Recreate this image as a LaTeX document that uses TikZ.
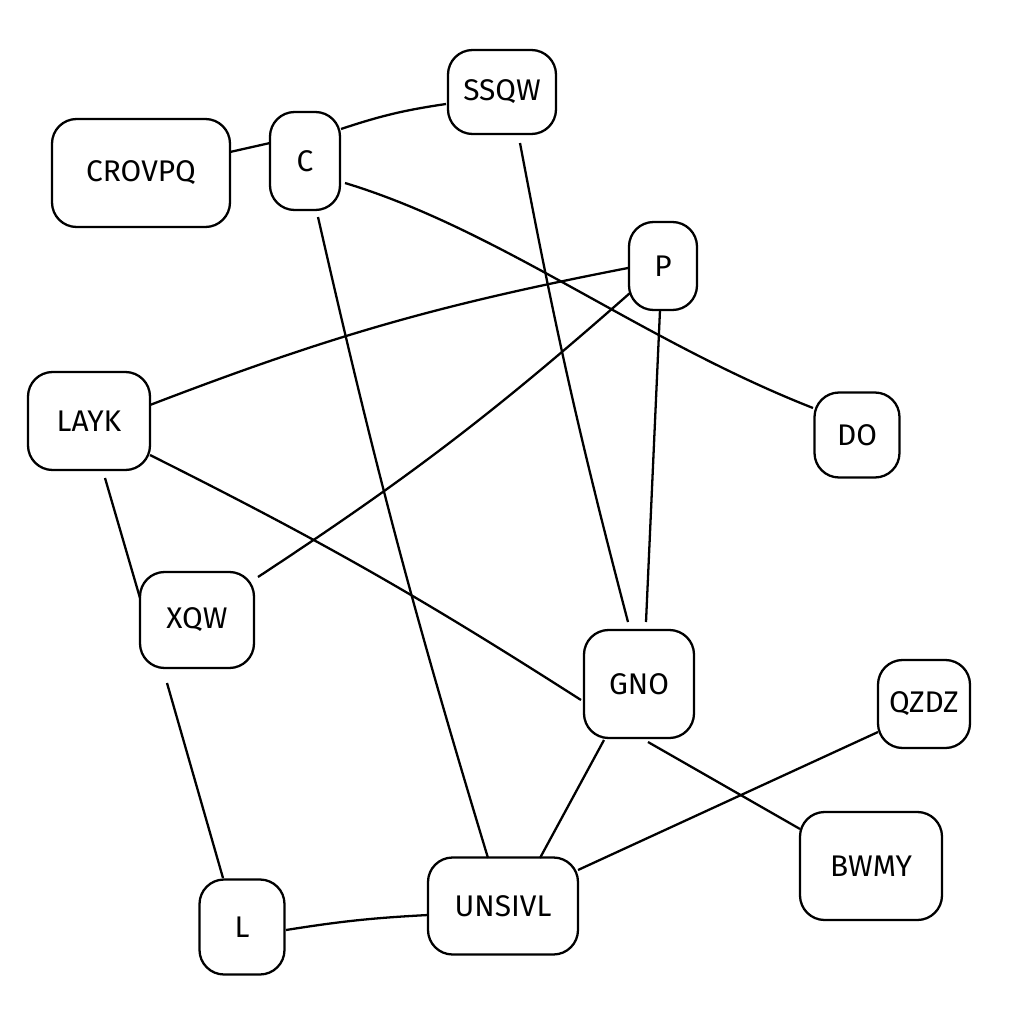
\documentclass[tikz,border=0pt]{standalone}
\usepackage{fontspec}
\setmainfont{Fira Sans}
\begin{document}
\begin{tikzpicture}[x=0.02cm,y=-0.02cm,
  box/.style={draw=black,line width=1.3pt,rounded corners=14pt,font=\fontsize{17}{20}\selectfont,inner sep=0pt},
  link/.style={draw=black,line width=1.3pt}]
\useasboundingbox (0,0) rectangle (1024,1024);
\node[box,minimum width=178*0.02cm,minimum height=108*0.02cm] (crovpq) at (141,173) {CROVPQ};
\node[box,minimum width=70*0.02cm,minimum height=98*0.02cm] (c) at (305,161) {C};
\node[box,minimum width=108*0.02cm,minimum height=84*0.02cm] (ssqw) at (502,92) {SSQW};
\node[box,minimum width=68*0.02cm,minimum height=88*0.02cm] (p) at (663,266) {P};
\node[box,minimum width=122*0.02cm,minimum height=98*0.02cm] (layk) at (89,421) {LAYK};
\node[box,minimum width=85*0.02cm,minimum height=85*0.02cm] (do) at (857,435) {DO};
\node[box,minimum width=114*0.02cm,minimum height=96*0.02cm] (xqw) at (197,620) {XQW};
\node[box,minimum width=110*0.02cm,minimum height=108*0.02cm] (gno) at (639,684) {GNO};
\node[box,minimum width=92*0.02cm,minimum height=88*0.02cm] (qzdz) at (924,704) {QZDZ};
\node[box,minimum width=142*0.02cm,minimum height=108*0.02cm] (bwmy) at (871,866) {BWMY};
\node[box,minimum width=85*0.02cm,minimum height=95*0.02cm] (l) at (242,927) {L};
\node[box,minimum width=150*0.02cm,minimum height=97*0.02cm] (unsivl) at (503,906) {UNSIVL};

\draw[link] ([shift={(89,-21)}]crovpq.center) -- ([shift={(-35,-18)}]c.center);
\draw[link] ([shift={(36,-32)}]c.center) to[bend left=5] ([shift={(-56,12)}]ssqw.center);
\draw[link] ([shift={(40,22)}]c.center) .. controls (500,230) and (640,340) .. ([shift={(-44,-27)}]do.center);
\draw[link] ([shift={(13,56)}]c.center) to[bend right=2] ([shift={(-15,-48)}]unsivl.center);
\draw[link] ([shift={(18,51)}]ssqw.center) to[bend right=2] ([shift={(-11,-62)}]gno.center);
\draw[link] ([shift={(-35,2)}]p.center) to[bend right=5] ([shift={(61,-16)}]layk.center);
\draw[link] ([shift={(-33,27)}]p.center) to[bend left=4] ([shift={(61,-43)}]xqw.center);
\draw[link] ([shift={(-3,44)}]p.center) -- ([shift={(7,-62)}]gno.center);
\draw[link] ([shift={(61,34)}]layk.center) to[bend left=3] ([shift={(-58,16)}]gno.center);
\draw[link] ([shift={(16,57)}]layk.center) -- ([shift={(-57,-22)}]xqw.center);
\draw[link] ([shift={(-30,63)}]xqw.center) -- ([shift={(-19,-49)}]l.center);
\draw[link] ([shift={(44,3)}]l.center) to[bend left=3] ([shift={(-75,9)}]unsivl.center);
\draw[link] ([shift={(-35,56)}]gno.center) -- ([shift={(37,-48)}]unsivl.center);
\draw[link] ([shift={(9,58)}]gno.center) -- ([shift={(-71,-37)}]bwmy.center);
\draw[link] ([shift={(-46,28)}]qzdz.center) -- ([shift={(75,-36)}]unsivl.center);
\end{tikzpicture}
\end{document}
